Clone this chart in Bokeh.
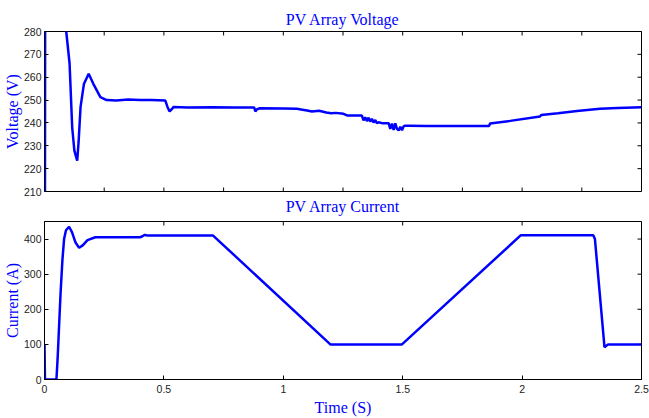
import math
from bokeh.plotting import figure
from bokeh.layouts import column
from bokeh.models import LinearAxis, FixedTicker, Range1d, Title
from bokeh.embed import file_html
from bokeh.resources import INLINE

# ---- data ----
v_time = [0.0, 0.003, 0.06, 0.091, 0.105, 0.116, 0.125, 0.13, 0.137, 0.143, 0.151, 0.165,
          0.185, 0.205, 0.234, 0.26, 0.3, 0.35, 0.4, 0.45, 0.506, 0.515, 0.524, 0.533, 0.54,
          0.6, 0.7, 0.8, 0.878, 0.883, 0.89, 0.9, 1.0, 1.057, 1.08, 1.1, 1.12, 1.15, 1.18,
          1.2, 1.22, 1.252, 1.267, 1.329, 1.336, 1.343, 1.35, 1.357, 1.364, 1.371, 1.378,
          1.385, 1.392, 1.399, 1.413, 1.441, 1.448, 1.455, 1.462, 1.469, 1.476, 1.483, 1.49,
          1.497, 1.504, 1.51, 1.524, 1.6, 1.7, 1.8, 1.862, 1.866, 1.95, 2.075, 2.08, 2.15,
          2.23, 2.326, 2.4, 2.5]
v_volt = [0, 320, 300, 280, 266, 238, 228, 226, 223.5, 232, 247, 257,
          261.5, 257, 251.3, 250, 249.8, 250.2, 250, 250, 249.8, 247, 245, 246, 247,
          246.8, 246.9, 246.7, 246.8, 245, 246, 246.4, 246.3, 246.2, 245.8, 245.4, 245.0, 245.3, 244.6,
          244.2, 244.4, 244.0, 243.3, 243.2, 241.1, 242.5, 240.8, 242.3, 240.6, 241.8, 240.2,
          241.3, 239.9, 240.3, 239.9, 239.9, 237.4, 239.7, 236.9, 239.8, 237.4, 236.7, 238.3,
          236.8, 238.5, 238.8, 238.8, 238.7, 238.7, 238.7, 238.7, 239.8, 240.9, 242.8, 243.5, 244.2,
          245.2, 246.2, 246.5, 246.9]

i_time = [0.0, 0.002, 0.05, 0.055, 0.067, 0.075, 0.082, 0.09, 0.103, 0.115, 0.13, 0.145,
          0.16, 0.18, 0.213, 0.3, 0.4, 0.41, 0.42, 0.43, 0.706, 1.197, 1.497, 1.995, 2.298,
          2.305, 2.345, 2.36, 2.5]
i_amp = [100, 0, 0, 60, 242, 340, 400, 425, 435, 420, 390, 375,
         382, 397, 405, 405, 405, 408, 412, 410, 410, 100, 100, 411, 411,
         400, 92, 100, 100]

v_ticks = [210, 220, 230, 240, 250, 260, 270, 280]
i_ticks = [0, 100, 200, 300, 400]
t_ticks_top = [0, 0.25, 0.5, 0.75, 1.0, 1.25, 1.5, 1.75, 2.0, 2.25, 2.5]
t_ticks_bottom = [0, 0.5, 1.0, 1.5, 2.0, 2.5]
T_MIN, T_MAX = 0, 2.5

BLUE = "#0000ff"
SERIF = "Liberation Serif"
SANS = "Liberation Sans"


def style_axis(ax, ticks):
    ax.ticker = FixedTicker(ticks=ticks)
    ax.major_tick_in = 4
    ax.major_tick_out = 0
    ax.minor_tick_in = 0
    ax.minor_tick_out = 0
    ax.axis_line_color = "black"
    ax.major_tick_line_color = "black"
    ax.major_label_text_font = SANS
    ax.major_label_text_font_size = "10.5px"
    ax.major_label_text_color = "#222222"
    ax.major_label_standoff = 3
    ax.axis_label_text_font = SERIF
    ax.axis_label_text_font_size = "16px"
    ax.axis_label_text_font_style = "normal"
    ax.axis_label_text_color = BLUE


def style_title(t):
    t.align = "center"
    t.text_font = SERIF
    t.text_font_size = "16px"
    t.text_font_style = "normal"
    t.text_color = BLUE


def tick_marks(p, xs, ys, vertical):
    # unlabeled inward tick marks on the box edges (half of each dash is clipped by the frame)
    p.scatter(xs, ys, marker="dash", size=8, line_color="black", line_width=1,
              angle=(math.pi / 2 if vertical else 0))


def make_fig(height, top, bottom, yr, yticks, ylabel):
    p = figure(width=649, height=height, output_backend="svg", toolbar_location=None,
               x_range=Range1d(T_MIN, T_MAX), y_range=Range1d(*yr),
               min_border_left=44, min_border_right=8, min_border_top=top,
               min_border_bottom=bottom, x_axis_location=None, y_axis_location=None)
    p.grid.visible = False
    p.outline_line_color = "black"
    p.background_fill_color = "white"
    p.border_fill_color = "white"
    left = LinearAxis(axis_label=ylabel, axis_label_standoff=0)
    style_axis(left, yticks)
    left.axis_label_text_line_height = 0.9
    p.add_layout(left, "left")
    tick_marks(p, [T_MAX] * len(yticks), yticks, False)
    return p


# upper panel: voltage
p1 = make_fig(219, 31, 28, (210, 280), v_ticks, "Voltage (V)")
p1.title.text = "PV Array Voltage"
style_title(p1.title)
p1.title.standoff = 8
p1.line(v_time, v_volt, line_color=BLUE, line_width=2.5)
tick_marks(p1, t_ticks_top, [210] * len(t_ticks_top), True)
tick_marks(p1, t_ticks_top, [280] * len(t_ticks_top), True)
# heading of the lower panel sits in the gap between the two boxes
t2 = Title(text="PV Array Current", standoff=8)
style_title(t2)
p1.add_layout(t2, "below")

# lower panel: current
p2 = make_fig(199, 2, 37, (0, 450), i_ticks, "Current (A)")
p2.line(i_time, i_amp, line_color=BLUE, line_width=2.5)
bot = LinearAxis(axis_label="Time (S)", axis_label_standoff=3)
style_axis(bot, t_ticks_bottom)
bot.major_label_standoff = 5
p2.add_layout(bot, "below")
tick_marks(p2, t_ticks_bottom, [450] * len(t_ticks_bottom), True)

layout = column(p1, p2, spacing=0)
open("out.html", "w").write(file_html(layout, INLINE))
